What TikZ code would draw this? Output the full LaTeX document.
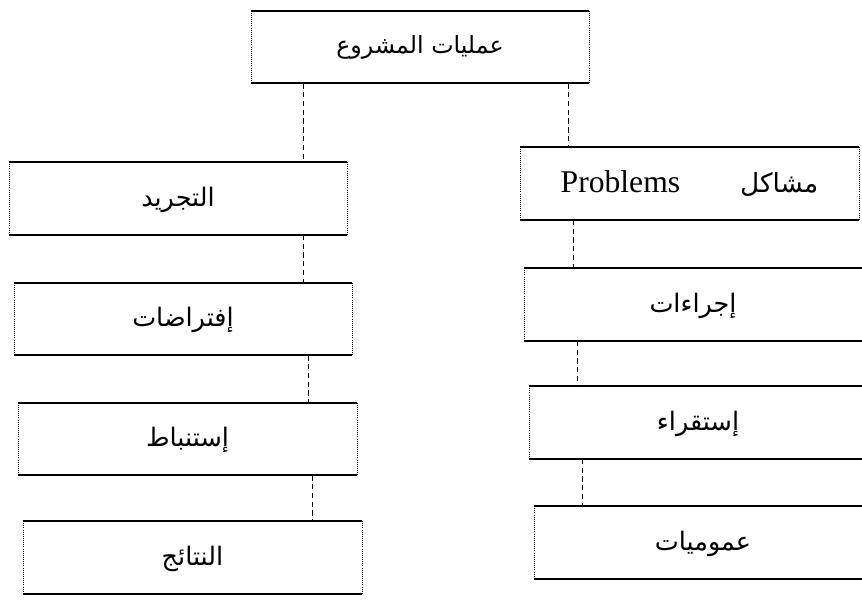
\documentclass[tikz,border=0pt]{standalone}
\usepackage{fontspec}
\setmainfont{Liberation Serif}
\newfontfamily\arabicfont[Script=Arabic]{DejaVu Sans}
\TeXXeTstate=1
\newcommand{\artexte}[2][14.5]{{\arabicfont\fontsize{#1}{16}\selectfont\beginR #2\endR}}
\tikzset{
  boite/.style={minimum width=6.76cm, minimum height=1.44cm, inner sep=0pt, text depth=0.5ex},
  bord/.style={line width=1.1pt},
  cote/.style={very thin, densely dotted},
  lien/.style={very thin, densely dashed},
}
\begin{document}
\begin{tikzpicture}[x=0.02cm,y=-0.02cm]
\useasboundingbox (0,0) rectangle (862,599);
%	Boîte du haut :
\node[boite] (haut) at (420,47) {\artexte[13.5]{عمليات المشروع}};
%	Colonne de gauche :
\node[boite] (g1) at (178,198.5) {\artexte{التجريد}};
\node[boite] (g2) at (183,319) {\artexte{إفتراضات}};
\node[boite] (g3) at (187.5,439) {\artexte{إستنباط}};
\node[boite] (g4) at (192.5,557.5) {\artexte{النتائج}};
%	Colonne de droite :
\node[boite] (d1) at (689.5,183.5) {{\fontsize{18}{20}\selectfont Problems}\hspace{1.2cm}\artexte[15]{مشاكل}};
\node[boite] (d2) at (693,304.5) {\artexte{إجراءات}};
\node[boite] (d3) at (698,422.5) {\artexte{إستقراء}};
\node[boite] (d4) at (703,542.5) {\artexte{عموميات}};
%	Contours des boîtes :
\foreach \n in {haut,g1,g2,g3,g4,d1,d2,d3,d4}{
  \draw[bord] (\n.north west) -- (\n.north east);
  \draw[bord] (\n.south west) -- (\n.south east);
  \draw[cote] (\n.north west) -- (\n.south west);
  \draw[cote] (\n.north east) -- (\n.south east);
}
%	Liens :
\draw[lien] ([xshift=-2.34cm]haut.south) -- ([xshift=-2.34cm]haut.south |- g1.north);
\draw[lien] ([xshift=2.96cm]haut.south) -- ([xshift=2.96cm]haut.south |- d1.north);
\foreach \a/\b in {g1/g2,g2/g3,g3/g4}
  \draw[lien] ([xshift=2.5cm]\a.south) -- ([xshift=2.5cm]\a.south |- \b.north);
\foreach \a/\b in {d1/d2,d2/d3,d3/d4}
  \draw[lien] ([xshift=-2.32cm]\a.south) -- ([xshift=-2.32cm]\a.south |- \b.north);
\end{tikzpicture}
\end{document}
